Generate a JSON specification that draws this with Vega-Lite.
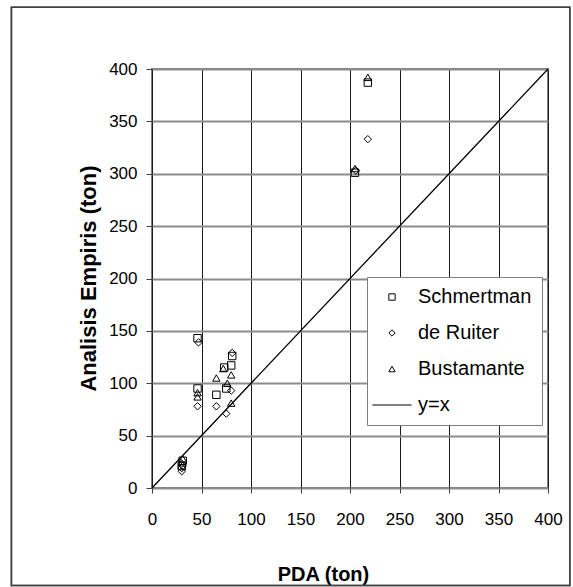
{
  "$schema": "https://vega.github.io/schema/vega-lite/v6.json",
  "autosize": "none",
  "width": 396,
  "height": 419,
  "padding": {"left": 152, "top": 69, "right": 25, "bottom": 99},
  "background": "white",
  "config": {
    "view": {"stroke": "#808080", "strokeWidth": 2},
    "font": "Liberation Sans"
  },
  "datasets": {
    "pts": [
      {"method": "Schmertman", "PDA": 30, "emp": 21},
      {"method": "Schmertman", "PDA": 31, "emp": 26},
      {"method": "Schmertman", "PDA": 46, "emp": 95},
      {"method": "Schmertman", "PDA": 46, "emp": 143},
      {"method": "Schmertman", "PDA": 65, "emp": 89},
      {"method": "Schmertman", "PDA": 73, "emp": 115},
      {"method": "Schmertman", "PDA": 75, "emp": 95},
      {"method": "Schmertman", "PDA": 80, "emp": 117},
      {"method": "Schmertman", "PDA": 81, "emp": 126},
      {"method": "Schmertman", "PDA": 205, "emp": 301},
      {"method": "Schmertman", "PDA": 218, "emp": 387},
      {"method": "de Ruiter", "PDA": 30, "emp": 16},
      {"method": "de Ruiter", "PDA": 30, "emp": 19},
      {"method": "de Ruiter", "PDA": 31, "emp": 21},
      {"method": "de Ruiter", "PDA": 46, "emp": 78},
      {"method": "de Ruiter", "PDA": 47, "emp": 139},
      {"method": "de Ruiter", "PDA": 65, "emp": 78},
      {"method": "de Ruiter", "PDA": 75, "emp": 71},
      {"method": "de Ruiter", "PDA": 80, "emp": 93},
      {"method": "de Ruiter", "PDA": 81, "emp": 129},
      {"method": "de Ruiter", "PDA": 206, "emp": 303},
      {"method": "de Ruiter", "PDA": 218, "emp": 333},
      {"method": "Bustamante", "PDA": 31, "emp": 28},
      {"method": "Bustamante", "PDA": 30, "emp": 24},
      {"method": "Bustamante", "PDA": 46, "emp": 91},
      {"method": "Bustamante", "PDA": 46, "emp": 87},
      {"method": "Bustamante", "PDA": 65, "emp": 105},
      {"method": "Bustamante", "PDA": 72, "emp": 114},
      {"method": "Bustamante", "PDA": 76, "emp": 100},
      {"method": "Bustamante", "PDA": 80, "emp": 108},
      {"method": "Bustamante", "PDA": 80, "emp": 81},
      {"method": "Bustamante", "PDA": 205, "emp": 305},
      {"method": "Bustamante", "PDA": 218, "emp": 392}
    ],
    "diag": [
      {"PDA": 0, "emp": 0},
      {"PDA": 400, "emp": 400}
    ]
  },
  "layer": [
    {
      "data": {"name": "diag"},
      "mark": {"type": "rect", "filled": false, "stroke": "#404040", "strokeWidth": 1.5, "clip": false},
      "encoding": {
        "x": {"datum": -142, "type": "quantitative"},
        "x2": {"datum": 422},
        "y": {"datum": 459, "type": "quantitative"},
        "y2": {"datum": -93}
      }
    },
    {
      "data": {"name": "diag"},
      "mark": {"type": "line", "color": "black", "strokeWidth": 1.3},
      "encoding": {
        "x": {"field": "PDA", "type": "quantitative"},
        "y": {"field": "emp", "type": "quantitative"}
      }
    },
    {
      "data": {"name": "pts"},
      "mark": {"type": "point", "filled": false, "color": "black", "strokeWidth": 1, "size": 55, "opacity": 1},
      "encoding": {
        "x": {
          "field": "PDA", "type": "quantitative",
          "scale": {"domain": [0, 400], "nice": false, "zero": false},
          "axis": {
            "values": [0, 50, 100, 150, 200, 250, 300, 350, 400],
            "grid": true, "gridColor": "#1a1a1a", "gridWidth": 1, "gridOpacity": 1,
            "domain": false, "labelFlush": false,
            "tickColor": "#404040", "tickSize": 5,
            "labelFontSize": 17, "labelColor": "black", "labelPadding": 18, "labelFont": "Liberation Sans",
            "title": "PDA (ton)", "titleFontSize": 20, "titleFontWeight": "bold", "titleColor": "black", "titleFont": "Liberation Sans",
            "titleX": 171, "titleY": 86, "titleAlign": "center", "titleBaseline": "middle"
          }
        },
        "y": {
          "field": "emp", "type": "quantitative",
          "scale": {"domain": [0, 400], "nice": false, "zero": false},
          "axis": {
            "values": [0, 50, 100, 150, 200, 250, 300, 350, 400],
            "grid": true, "gridColor": "#8c8c8c", "gridWidth": 2, "gridOpacity": 1,
            "domain": false, "labelFlush": false,
            "tickColor": "#404040", "tickSize": 6,
            "labelFontSize": 17, "labelColor": "black", "labelPadding": 9, "labelFont": "Liberation Sans",
            "title": "Analisis Empiris (ton)", "titleFontSize": 22, "titleFontWeight": "bold", "titleColor": "black", "titleFont": "Liberation Sans",
            "titleX": -64, "titleY": 209, "titleAlign": "center", "titleBaseline": "middle", "titleAngle": -90
          }
        },
        "shape": {
          "field": "method", "type": "nominal",
          "scale": {
            "domain": ["Schmertman", "de Ruiter", "Bustamante", "y=x"],
            "range": ["square", "diamond", "triangle-up", "M-6.2,0L6.2,0"]
          },
          "legend": {
            "title": null,
            "orient": "none",
            "legendX": 215,
            "legendY": 208,
            "padding": 10,
            "fillColor": "white",
            "strokeColor": "#808080",
            "symbolSize": 40,
            "symbolStrokeColor": "black",
            "symbolFillColor": "white",
            "symbolStrokeWidth": 1,
            "symbolOffset": 5,
            "labelOffset": 16,
            "labelFontSize": 20,
            "labelFont": "Liberation Sans",
            "labelColor": "black",
            "rowPadding": 16,
            "encode": {
              "legend": {"update": {"strokeWidth": {"value": 1.5}}}
            }
          }
        }
      }
    }
  ]
}
